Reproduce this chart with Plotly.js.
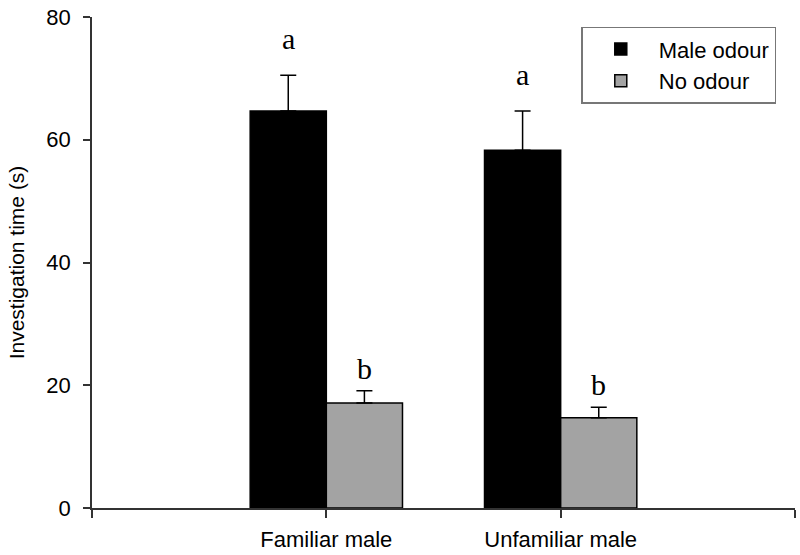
<!DOCTYPE html>
<html>
<head>
<meta charset="utf-8">
<script src="https://cdn.plot.ly/plotly-3.0.1.min.js"></script>
<style>body{margin:0;background:#fff}#chart{width:800px;height:555px}</style>
</head>
<body>
<div id="chart"></div>
<script>
var categories = ["Familiar male", "Unfamiliar male"];
var catPos = [1, 2];
var maleOdour = [64.7, 58.3];
var maleOdourErr = [5.8, 6.4];
var noOdour = [17.1, 14.7];
var noOdourErr = [2.0, 1.7];
var maleLetters = ["a", "a"];
var noLetters = ["b", "b"];

var barLine = {color: "#000", width: 1.5};
var serif = "Liberation Serif, Times New Roman, serif";

var trace1 = {
    x: catPos,
    y: maleOdour,
    name: "Male odour",
    type: "bar",
    marker: {color: "#000", line: barLine},
    error_y: {type: "data", array: maleOdourErr, arrayminus: [0, 0], symmetric: false, color: "#000", thickness: 1.5, width: 8}
};

var trace2 = {
    x: catPos,
    y: noOdour,
    name: "No odour",
    type: "bar",
    marker: {color: "#a3a3a3", line: barLine},
    error_y: {type: "data", array: noOdourErr, arrayminus: [0, 0], symmetric: false, color: "#000", thickness: 1.5, width: 8}
};

// letters above the error bars
var annotations = [];
for (var i = 0; i < catPos.length; i++) {
    annotations.push({x: catPos[i] - 0.1625, y: maleOdour[i] + maleOdourErr[i], text: maleLetters[i],
        showarrow: false, yanchor: "bottom", yshift: 18, font: {family: serif, size: 30, color: "#000"}});
    annotations.push({x: catPos[i] + 0.1625, y: noOdour[i] + noOdourErr[i], text: noLetters[i],
        showarrow: false, yanchor: "bottom", yshift: 4, font: {family: serif, size: 30, color: "#000"}});
}

var layout = {
    width: 800,
    height: 555,
    margin: {l: 92, r: 5, t: 17, b: 47},
    paper_bgcolor: "#fff",
    plot_bgcolor: "#fff",
    font: {family: "Liberation Sans, Arial, sans-serif", color: "#000"},
    barmode: "group",
    bargap: 0.35,
    bargroupgap: 0,
    showlegend: true,
    legend: {
        x: 0.696, y: 0.98, xanchor: "left", yanchor: "top",
        bordercolor: "#777", borderwidth: 1.5, bgcolor: "#fff",
        font: {size: 22}, itemwidth: 66, entrywidth: 205
    },
    xaxis: {
        range: [0, 3],
        tickvals: [0, 1, 2, 3],
        ticktext: ["", categories[0], categories[1], ""],
        showline: true, linecolor: "#333", linewidth: 1.5,
        ticks: "outside", ticklen: 8, tickcolor: "#333", tickwidth: 1.5,
        showgrid: false, zeroline: false,
        tickfont: {size: 22}, ticklabelstandoff: 3
    },
    yaxis: {
        range: [0, 80],
        tickvals: [0, 20, 40, 60, 80],
        showline: true, linecolor: "#333", linewidth: 1.5,
        ticks: "outside", ticklen: 7, tickcolor: "#333", tickwidth: 1.5,
        showgrid: false, zeroline: false,
        tickfont: {size: 22}, ticklabelstandoff: 8,
        title: {text: "Investigation time (s)", font: {size: 21}, standoff: 16}
    },
    annotations: annotations
};

Plotly.newPlot("chart", [trace1, trace2], layout, {displayModeBar: false});
</script>
</body>
</html>
